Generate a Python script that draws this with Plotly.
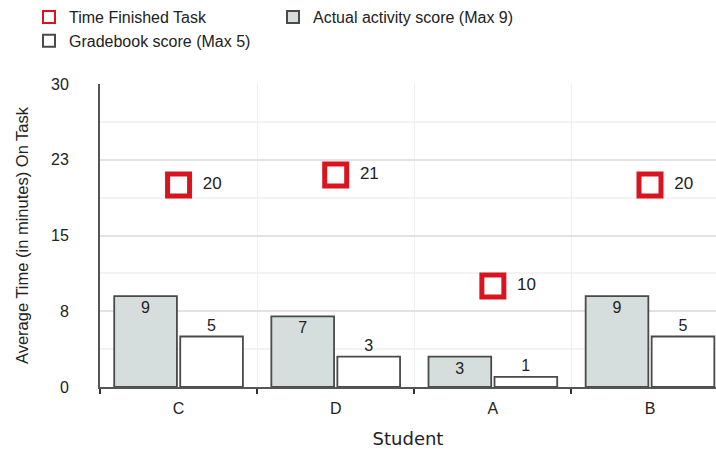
import plotly.graph_objects as go

students = ["C", "D", "A", "B"]
time_finished = [20, 21, 10, 20]
actual_score = [9, 7, 3, 9]
gradebook_score = [5, 3, 1, 5]
y_tickvals = [0, 7.5, 15, 22.5, 30]
y_ticktext = ["0", "8", "15", "23", "30"]
y_minor = [3.75, 11.25, 18.75, 26.25]

font = "Liberation Sans, Arial, sans-serif"

fig = go.Figure()
fig.add_trace(go.Scatter(
    x=students, y=time_finished, mode="markers+text", name="Time Finished Task",
    marker=dict(symbol="square-open", size=22, color="#d9141f", line=dict(width=5, color="#d9141f")),
    text=["  " + str(v) for v in time_finished], textposition="middle right",
    textfont=dict(size=17, color="#222"), cliponaxis=False,
))
fig.add_trace(go.Bar(
    x=students, y=actual_score, name="Actual activity score (Max 9)",
    marker=dict(color="#d5dddd", line=dict(color="#4a4a4a", width=1.8)),
    text=[str(v) for v in actual_score], textposition="inside", insidetextanchor="end",
    textfont=dict(size=16, color="#222"),
))
fig.add_trace(go.Bar(
    x=students, y=gradebook_score, name="Gradebook score (Max 5)",
    marker=dict(color="#ffffff", line=dict(color="#4a4a4a", width=1.8)),
    text=[str(v) for v in gradebook_score], textposition="outside",
    textfont=dict(size=16, color="#222"), cliponaxis=False,
))

fig.update_layout(
    width=716, height=451,
    margin=dict(l=100, r=0, t=84, b=64),
    paper_bgcolor="white", plot_bgcolor="white",
    font=dict(family=font, size=16, color="#222"),
    barmode="group", bargap=0.16, bargroupgap=0.05,
    legend=dict(orientation="h", xref="container", x=0.0405, xanchor="left",
                yref="container", y=1.0, yanchor="top",
                entrywidth=199, traceorder="normal", font=dict(size=16),
                itemsizing="constant", tracegroupgap=0),
    showlegend=True,
)
fig.update_xaxes(
    type="category", range=[-0.5, 3.42], tickson="boundaries",
    showgrid=True, gridcolor="#eeeeee", gridwidth=1,
    showline=True, linecolor="#555", linewidth=2,
    ticks="outside", ticklen=5, tickcolor="#333", tickwidth=1.5,
    ticklabelstandoff=6,
    title=dict(text="Student", font=dict(size=18, family="DejaVu Sans, sans-serif"), standoff=16),
    tickfont=dict(size=16),
)
fig.update_yaxes(
    range=[0, 30], tickvals=y_tickvals, ticktext=y_ticktext,
    showgrid=True, gridcolor="#e2e2e2", gridwidth=1.5,
    minor=dict(tickvals=y_minor, showgrid=True, gridcolor="#f3f3f3"),
    showline=True, linecolor="#555", linewidth=2, zeroline=False,
    ticks="", tickfont=dict(size=16), ticklabelstandoff=26,
    title=dict(text="Average Time (in minutes) On Task", font=dict(size=16.5), standoff=18),
)

fig.write_html("out.html")
